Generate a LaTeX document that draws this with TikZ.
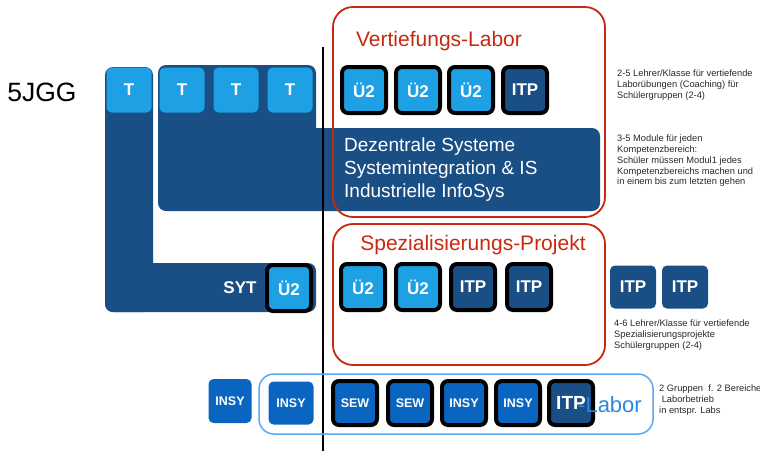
\documentclass[tikz,border=0pt]{standalone}
\usepackage{fontspec}
\setmainfont{Liberation Sans}
\definecolor{dkblue}{RGB}{26,79,134}
\definecolor{ltblue}{RGB}{30,160,228}
\definecolor{mdblue}{RGB}{10,101,192}
\definecolor{frame}{RGB}{200,40,15}
\definecolor{lablue}{RGB}{90,168,240}
\definecolor{latext}{RGB}{40,135,225}
\definecolor{note}{RGB}{40,40,40}
\tikzset{
  tile/.style={rounded corners=5pt, minimum width=45pt, minimum height=45pt, inner sep=0pt,
    text=white, font=\bfseries\fontsize{17}{17}\selectfont},
  btile/.style={tile, draw=black, line width=4pt, minimum width=44pt, minimum height=46pt, rounded corners=6pt},
  stile/.style={font=\bfseries\fontsize{12.5}{12.5}\selectfont},
  tlight/.style={tile, fill=ltblue},
  tdark/.style={tile, fill=dkblue},
  tmed/.style={tile, fill=mdblue, stile},
  blight/.style={btile, fill=ltblue},
  bdark/.style={btile, fill=dkblue},
  bmed/.style={btile, fill=mdblue, stile},
  redframe/.style={draw=frame, line width=1.8pt, rounded corners=20pt},
  title/.style={text=frame, font=\fontsize{21}{21}\selectfont},
  notes/.style={anchor=north west, align=left, text=note, inner sep=0pt, font=\fontsize{9.3}{10.7}\selectfont},
  slab/.style={fill=dkblue, rounded corners=8pt}
}
\begin{document}
\begin{tikzpicture}[x=1pt,y=-1pt]
\useasboundingbox (0,0) rectangle (760,451);
% large dark shapes
\fill[slab] (105,67) rectangle (153,312);
\fill[slab] (105,263) rectangle (316,312);
\fill[slab] (158,65) rectangle (316,165);
\fill[slab] (158,128) rectangle (600,211);
\node[anchor=west, align=left, text=white, inner sep=0pt, font=\fontsize{19}{23}\selectfont] (dez) at (344,170)
  {Dezentrale Systeme\\Systemintegration \& IS\\Industrielle InfoSys};

% 5JGG
\node[font=\fontsize{26.5}{26.5}\selectfont] (jgg) at (42,92) {5JGG};

% T tiles
\node[tlight] (t1) at (129,90) {T};
\node[tlight] (t2) at (182,90) {T};
\node[tlight] (t3) at (236,90) {T};
\node[tlight] (t4) at (290,90) {T};

% SYT
\node[text=white, font=\bfseries\fontsize{17}{17}\selectfont] (syt) at (240,288) {SYT};
\node[blight] (sytu) at (289,288) {Ü2};

% vertical line
\coordinate (vtop) at (323,47);
\coordinate (vbot) at (323,451);
\draw[line width=1.2pt] (vtop) -- (vbot);

% Vertiefungs-Labor
\draw[redframe] (333,7) rectangle (605,217);
\node[title] (vl) at (439,41) {Vertiefungs-Labor};
\node[blight] (v1) at (364,90) {Ü2};
\node[blight] (v2) at (418,90) {Ü2};
\node[blight] (v3) at (471,90) {Ü2};
\node[bdark]  (v4) at (525,90) {ITP};

% Spezialisierungs-Projekt
\draw[redframe] (333,224) rectangle (605,365);
\node[title] (sp) at (473,245) {Spezialisierungs-Projekt};
\node[blight] (s1) at (363,287) {Ü2};
\node[blight] (s2) at (418,287) {Ü2};
\node[bdark]  (s3) at (473,287) {ITP};
\node[bdark]  (s4) at (529,287) {ITP};

\node[tdark, minimum width=46pt, minimum height=43pt] (r1) at (633,287) {ITP};
\node[tdark, minimum width=46pt, minimum height=43pt] (r2) at (685,287) {ITP};

% Labor row
\draw[lablue, line width=1.5pt, rounded corners=15pt] (259,374) rectangle (653,434);
\node[tmed, minimum width=43pt, minimum height=44pt] (b0) at (230,401) {INSY};
\node[tmed, minimum width=45pt, minimum height=43pt] (b1) at (291,403) {INSY};
\node[bmed, minimum height=44pt] (b2) at (355,403) {SEW};
\node[bmed, minimum height=44pt] (b3) at (410,403) {SEW};
\node[bmed, minimum height=44pt] (b4) at (464,403) {INSY};
\node[bmed, minimum height=44pt] (b5) at (518,403) {INSY};
\node[bdark, minimum height=44pt, font=\bfseries\fontsize{19}{19}\selectfont] (b6) at (571,403) {ITP};
\node[anchor=west, inner sep=0pt, text=latext, font=\fontsize{22}{22}\selectfont] (lab) at (578,405) {-Labor};

% notes
\node[notes] (n1) at (617,70) {2-5 Lehrer/Klasse für vertiefende\\Laborübungen (Coaching) für\\Schülergruppen (2-4)};
\node[notes] (n2) at (617,135) {3-5 Module für jeden\\Kompetenzbereich:\\Schüler müssen Modul1 jedes\\Kompetenzbereichs machen und\\in einem bis zum letzten gehen};
\node[notes] (n3) at (614,320) {4-6 Lehrer/Klasse für vertiefende\\Spezialisierungsprojekte\\Schülergruppen (2-4)};
\node[notes] (n4) at (659,385) {2 Gruppen \ f. 2 Bereiche\\\ Laborbetrieb\\in entspr. Labs};
\end{tikzpicture}
\end{document}
